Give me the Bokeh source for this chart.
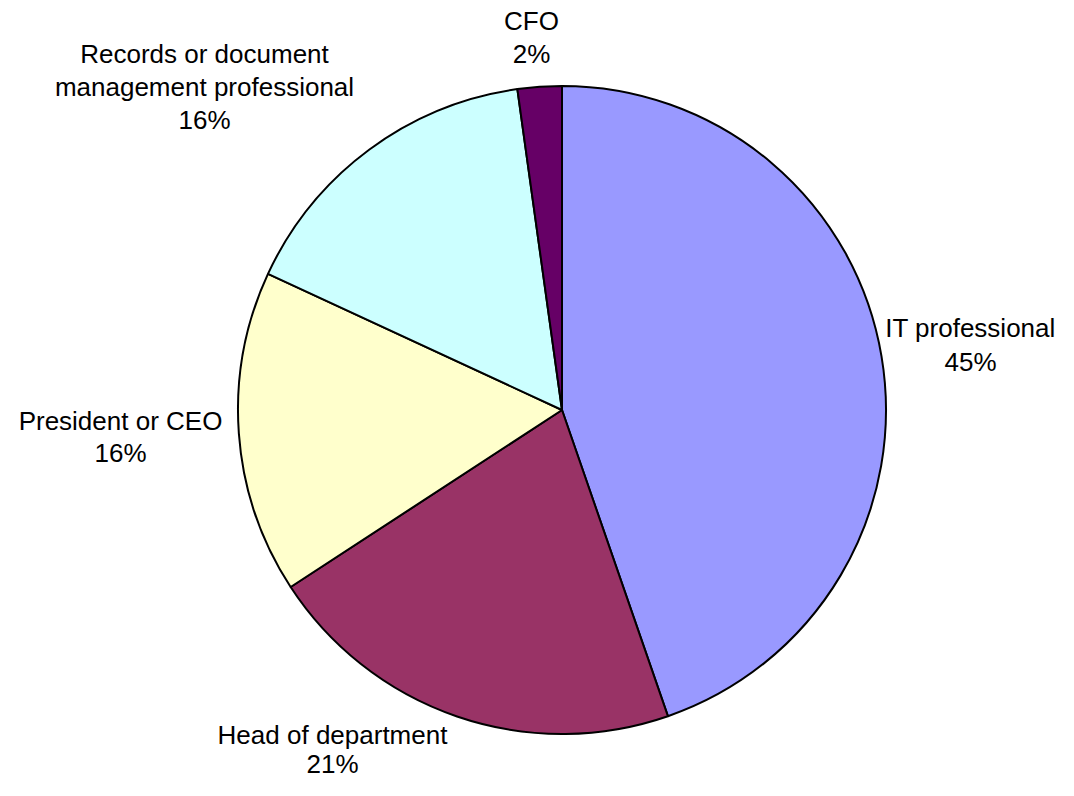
import math
from bokeh.plotting import figure
from bokeh.models import ColumnDataSource, Range1d
from bokeh.core.properties import value
from bokeh.embed import file_html
from bokeh.resources import INLINE

# ---- data ----
categories = ["IT professional", "Head of department", "President or CEO",
              "Records or document management professional", "CFO"]
shares = [44.7, 21.1, 16.1, 15.9, 2.2]
colors = ["#9999FF", "#993366", "#FFFFCC", "#CCFFFF", "#660066"]
label_lines = [["IT professional"], ["Head of department"], ["President or CEO"],
               ["Records or document", "management professional"], ["CFO"]]

# ---- layout (picture pixel coordinates) ----
W, H = 1058, 780
PAGE_H = 796
center_px = (561.5, 409.5)
radius_px = 324
# first-line baseline of each label
label_anchor_px = [(970, 338), (332, 745), (120, 431), (204, 64), (531, 31)]
line_gaps = [34, 29, 32, 33, 33]
BASELINE_FIX = 11  # svg text renders lower than the requested baseline
FONT = "Liberation Sans"
FONT_SIZE = "26px"

def dy(page_y):
    return PAGE_H - page_y

total = sum(shares)
starts, ends = [], []
acc = 0.0
for s in shares:
    a0 = acc / total * 2 * math.pi
    acc += s
    a1 = acc / total * 2 * math.pi
    starts.append(math.pi / 2 - a1)
    ends.append(math.pi / 2 - a0)

src = ColumnDataSource(dict(
    x=[center_px[0]] * len(shares), y=[dy(center_px[1])] * len(shares),
    start=starts, end=ends, color=colors, cat=categories, share=shares))

p = figure(width=W, height=H, x_range=Range1d(0, W), y_range=Range1d(PAGE_H - H, PAGE_H),
           output_backend="svg", toolbar_location=None, min_border=0)
p.axis.visible = False
p.xgrid.visible = False
p.ygrid.visible = False
p.outline_line_color = None
p.background_fill_color = "white"
p.border_fill_color = "white"

p.wedge(x="x", y="y", radius=radius_px, start_angle="start", end_angle="end",
        direction="anticlock", fill_color="color", line_color="black", line_width=2,
        source=src)

tx, ty, tt = [], [], []
for lines, s, (ax, ay), gap in zip(label_lines, shares, label_anchor_px, line_gaps):
    all_lines = lines + [f"{round(s)}%"]
    for i, ln in enumerate(all_lines):
        tx.append(ax)
        ty.append(dy(ay + i * gap - BASELINE_FIX))
        tt.append(ln)

p.text(x=tx, y=ty, text=tt, text_align="center", text_baseline="alphabetic",
       text_font=value(FONT), text_font_size=FONT_SIZE, text_color="black")

open("out.html", "w").write(file_html(p, INLINE))
